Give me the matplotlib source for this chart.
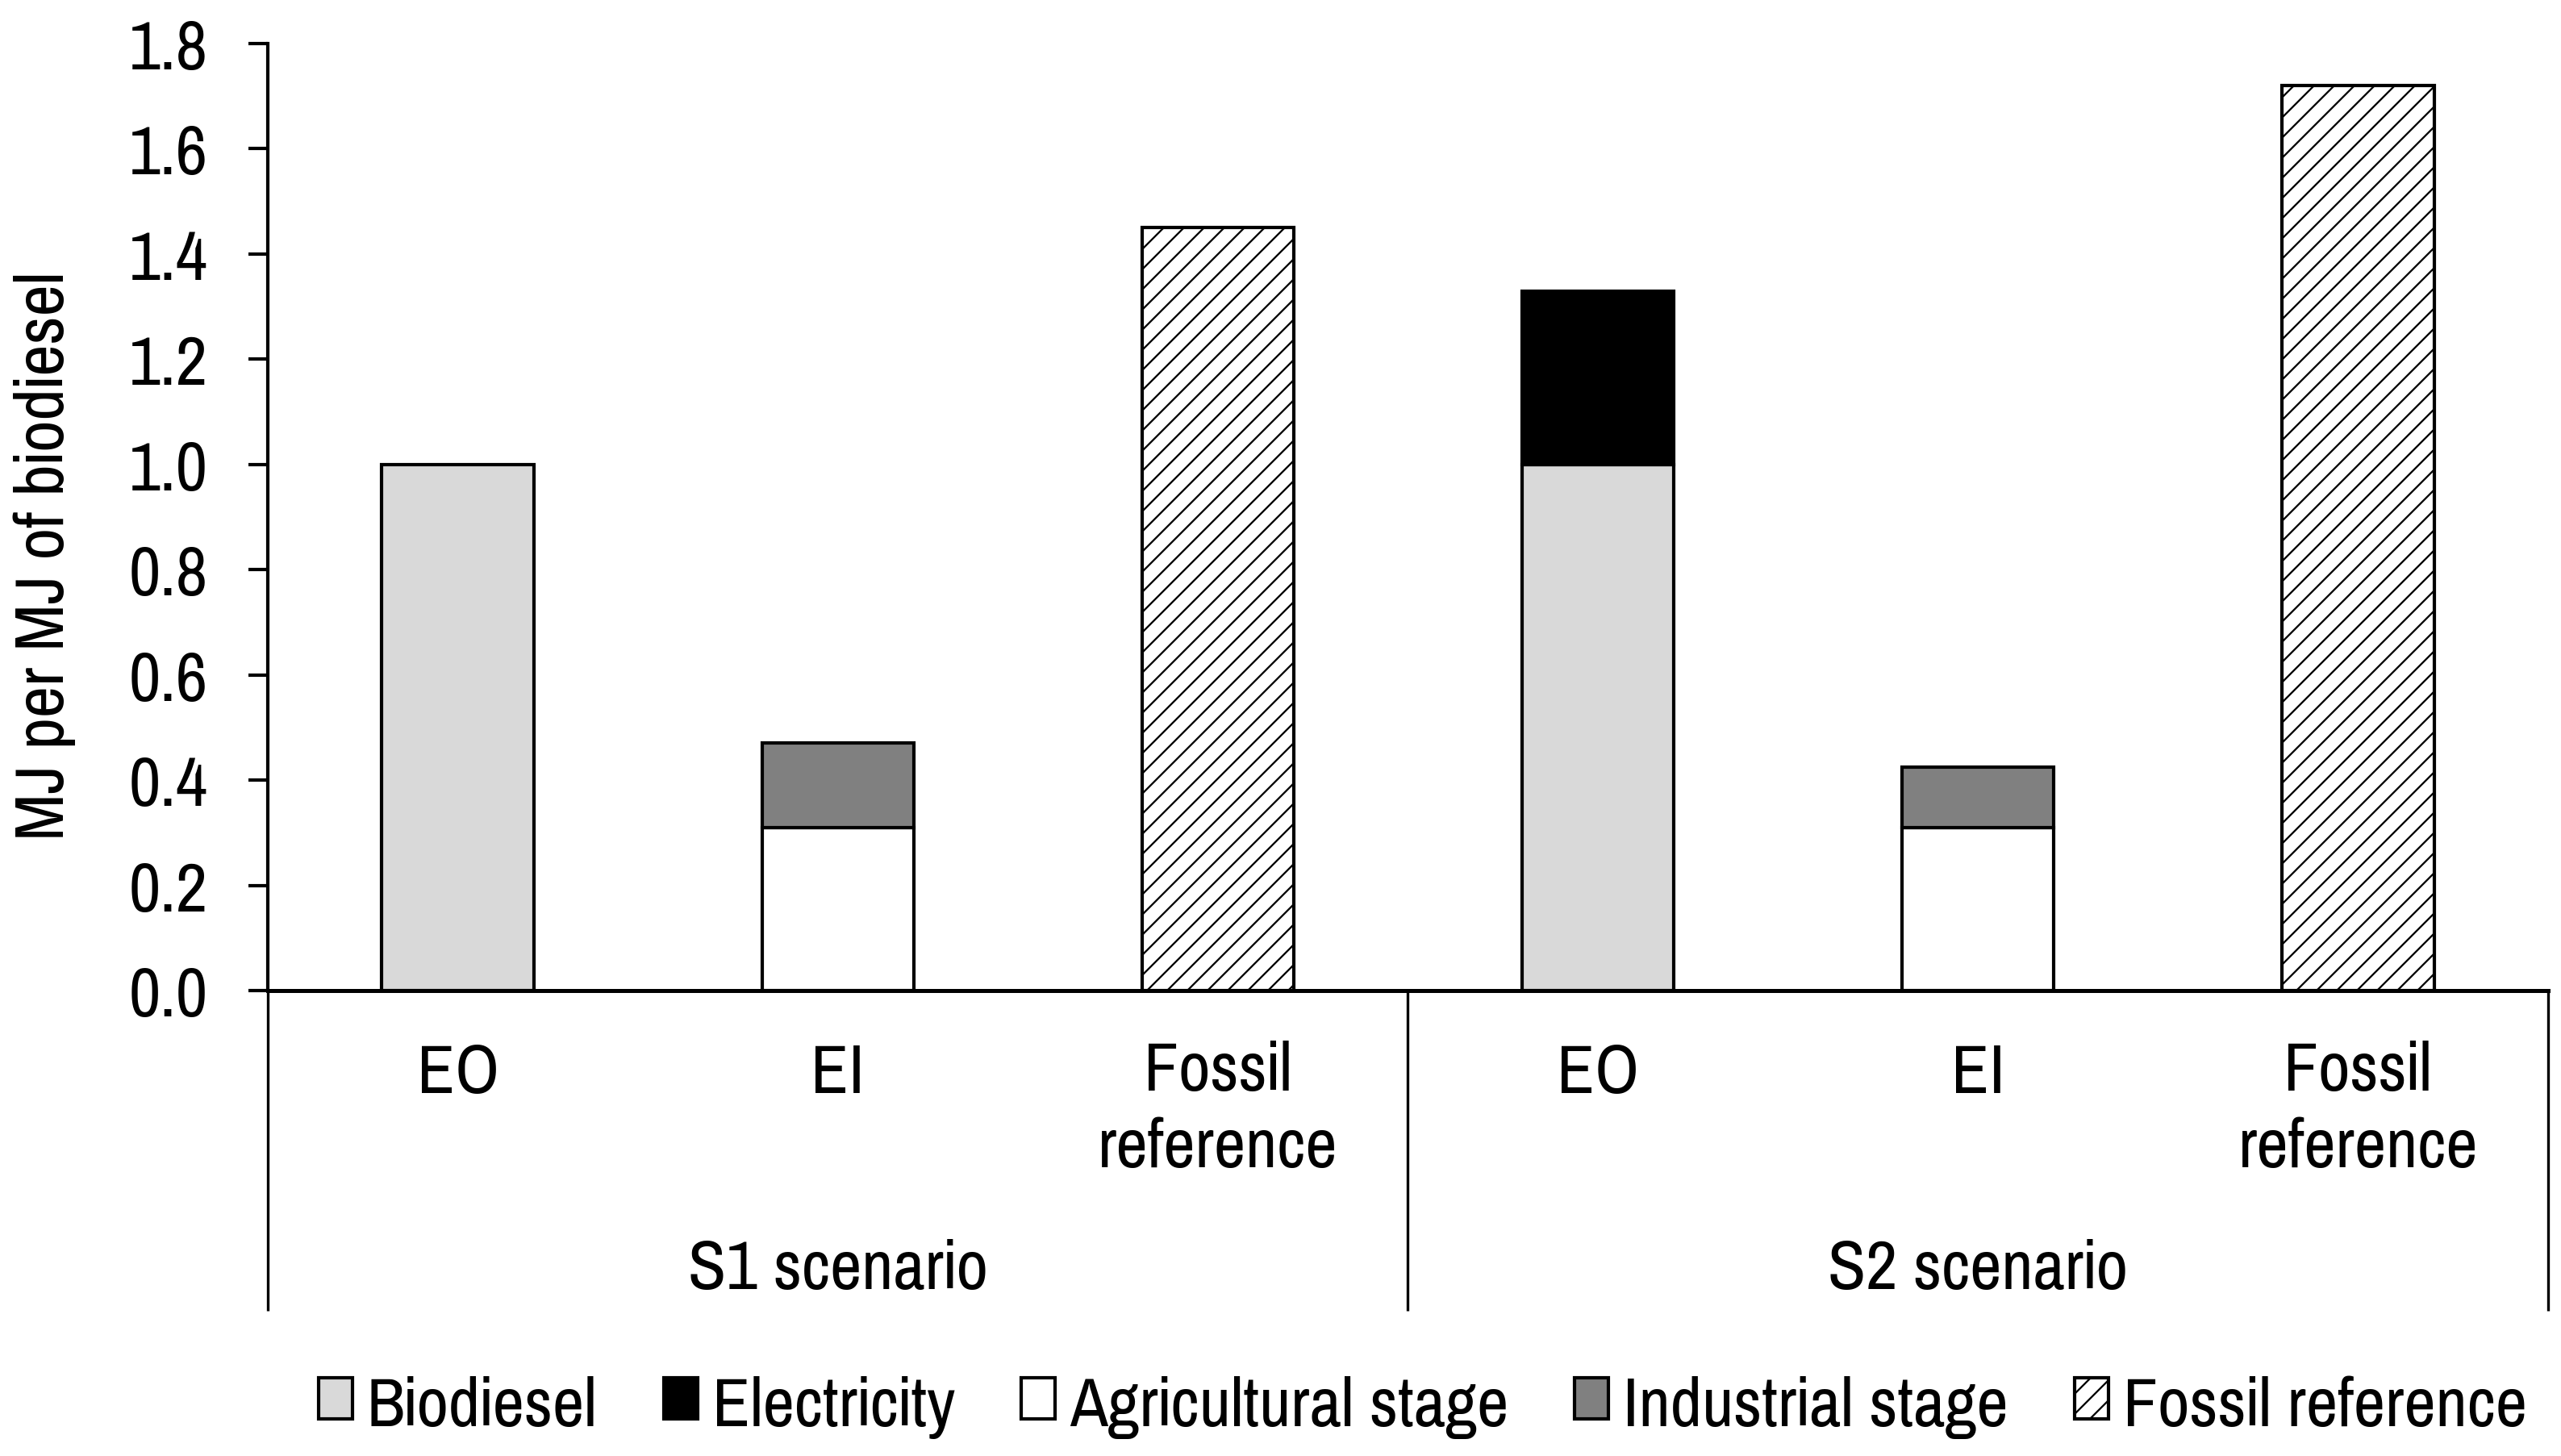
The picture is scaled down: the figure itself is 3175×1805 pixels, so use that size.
import numpy as np
import matplotlib
matplotlib.use("Agg")
import matplotlib.pyplot as plt
from matplotlib import font_manager as fm
from matplotlib.patches import Patch
from matplotlib.textpath import TextPath
import matplotlib.transforms as mtransforms

# ---------------- data ----------------
categories = ["EO", "EI", "Fossil\nreference", "EO", "EI", "Fossil\nreference"]
scenarios = ["S1 scenario", "S2 scenario"]
biodiesel = [1.00, 0.00, 0.00, 1.00, 0.00, 0.00]
electricity = [0.00, 0.00, 0.00, 0.33, 0.00, 0.00]
agricultural = [0.00, 0.31, 0.00, 0.00, 0.31, 0.00]
industrial = [0.00, 0.16, 0.00, 0.00, 0.115, 0.00]
fossil = [0.00, 0.00, 1.45, 0.00, 0.00, 1.72]
yticks = [0.0, 0.2, 0.4, 0.6, 0.8, 1.0, 1.2, 1.4, 1.6, 1.8]
legend_labels = ["Biodiesel", "Electricity", "Agricultural stage", "Industrial stage", "Fossil reference"]

DPI = 150
W, H = 3175, 1806
CAP_PX = 59.0                  # cap height of text in the reference, px
TARGET_RATIO = 527.0 / 59.0    # width of "Agricultural stage" / cap height

candidates = ["Liberation Sans Narrow", "Arial Narrow", "Nimbus Sans Narrow",
              "Pragati Narrow", "Archivo Narrow", "PT Sans Narrow",
              "Roboto Condensed", "IBM Plex Sans Condensed", "Fira Sans Condensed"]


def metrics(fam):
    fp = fm.FontProperties(family=fam)
    cap = TextPath((0, 0), "H", size=100, prop=fp).get_extents().height
    wid = TextPath((0, 0), "Agricultural stage", size=100, prop=fp).get_extents().width
    return cap, wid


best = None
for fam in candidates:
    try:
        fm.findfont(fm.FontProperties(family=fam), fallback_to_default=False)
    except Exception:
        continue
    try:
        cap, wid = metrics(fam)
    except Exception:
        continue
    score = abs(wid / cap - TARGET_RATIO)
    if best is None or score < best[0] - 0.15:
        best = (score, fam, cap)
if best is None:
    fam = "Liberation Sans"
    cap, _ = metrics(fam)
    best = (0, fam, cap)
FONT = best[1]
cap_per_em = best[2] / 100.0
FS = CAP_PX / cap_per_em * 72.0 / DPI      # points
FS_PX = FS * DPI / 72.0                    # pixels per em

plt.rcParams["font.family"] = [FONT, "DejaVu Sans"]
plt.rcParams["hatch.linewidth"] = 1.1
plt.rcParams["hatch.color"] = "black"

fig = plt.figure(figsize=(W / DPI, H / DPI), dpi=DPI)

x0, x1 = 332, 3159
y0, y1 = 1229, 55
ax = fig.add_axes([x0 / W, 1 - y0 / H, (x1 - x0) / W, (y0 - y1) / H])

x = np.arange(len(categories))
width = 0.40
LW = 2.0


def draw(vals, bottom, color, hatch=None):
    vals = np.asarray(vals, float)
    bottom = np.asarray(bottom, float)
    m = vals > 0
    ax.bar(x[m], vals[m], width, bottom=bottom[m], color=color, edgecolor="black",
           linewidth=LW, hatch=hatch, zorder=3)


zeros = np.zeros(len(categories))
draw(biodiesel, zeros, "#d9d9d9")
draw(electricity, np.array(biodiesel), "black")
draw(agricultural, zeros, "white")
draw(industrial, np.array(agricultural), "#808080")
draw(fossil, zeros, "white", hatch="//")

ax.set_xlim(-0.5, len(categories) - 0.5)
ax.set_ylim(0, 1.8)
ax.set_yticks(yticks)
ax.set_yticklabels([f"{v:.1f}" for v in yticks], fontsize=FS)
ax.tick_params(axis="y", length=11.5, width=LW, pad=24, direction="out")
ax.set_xticks([])
for s in ["top", "right"]:
    ax.spines[s].set_visible(False)
ax.spines["left"].set_linewidth(LW)
ax.spines["bottom"].set_linewidth(2.4)
ax.spines["bottom"].set_zorder(4)

ax_h = y0 - y1


def af(ypx):
    return (y0 - ypx) / ax_h


trans = mtransforms.blended_transform_factory(ax.transData, ax.transAxes)
# group divider lines
for gx in [-0.5, 2.5, 5.5]:
    ax.plot([gx, gx], [0, af(1626)], transform=trans, color="black", lw=1.6,
            clip_on=False, zorder=2, solid_capstyle="butt")

# category labels: first-line baseline at 1355 px, ~92 px per line
for xi, lab in zip(x, categories):
    n = lab.count("\n")
    ax.text(xi, af(1355 + 92 * n), lab, transform=trans, ha="center", va="baseline",
            fontsize=FS, multialignment="center", linespacing=1.29)

# scenario labels
for gi, lab in enumerate(scenarios):
    ax.text(gi * 3 + 1, af(1598), lab, transform=trans, ha="center", va="baseline",
            fontsize=FS)

# y label
fig.text(55 / W, 1 - 689 / H, "MJ per MJ of biodiesel", rotation=90,
         ha="center", va="center", fontsize=FS)

# legend
handles = [
    Patch(facecolor="#d9d9d9", edgecolor="black", linewidth=LW),
    Patch(facecolor="black", edgecolor="black", linewidth=LW),
    Patch(facecolor="white", edgecolor="black", linewidth=LW),
    Patch(facecolor="#808080", edgecolor="black", linewidth=LW),
    Patch(facecolor="white", edgecolor="black", linewidth=LW, hatch="//"),
]
fig.legend(handles, legend_labels, loc="center", bbox_to_anchor=(1764 / W, 1 - 1745 / H),
           ncol=5, frameon=False, fontsize=FS,
           handlelength=42 / FS_PX, handleheight=44 / FS_PX,
           handletextpad=18 / FS_PX, columnspacing=82 / FS_PX,
           borderaxespad=0, borderpad=0)

fig.savefig("out.png", dpi=DPI)
